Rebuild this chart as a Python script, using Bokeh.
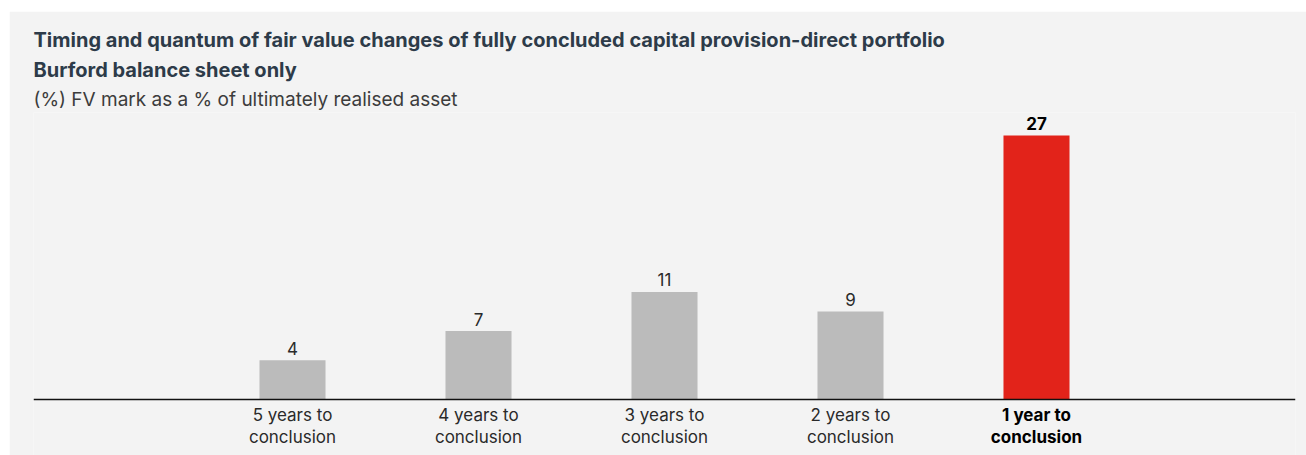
from bokeh.plotting import figure
from bokeh.models import ColumnDataSource, Span, Title, Range1d
from bokeh.core.properties import value
from bokeh.embed import file_html
from bokeh.resources import INLINE

# ---- data ----
categories = ["5 years to\nconclusion", "4 years to\nconclusion", "3 years to\nconclusion",
              "2 years to\nconclusion", "1 year to\nconclusion"]
values = [4, 7, 11, 9, 27]
value_labels = ["4", "7", "11", "9", "27"]
bar_colors = ["#bbbbbb", "#bbbbbb", "#bbbbbb", "#bbbbbb", "#e2231a"]
label_styles = ["normal", "normal", "normal", "normal", "bold"]
label_colors = ["#2a2a2a", "#2a2a2a", "#2a2a2a", "#2a2a2a", "#000000"]

title_1 = "Timing and quantum of fair value changes of fully concluded capital provision-direct portfolio"
title_2 = "Burford balance sheet only"
subtitle = "(%) FV mark as a % of ultimately realised asset"

FONT = "Inter"
BG = "#f3f3f3"

positions = list(range(len(categories)))
src = ColumnDataSource(dict(x=positions, top=values, color=bar_colors, cat=categories,
                            vlab=value_labels, style=label_styles, tcolor=label_colors))

p = figure(width=1297, height=444, output_backend="svg", toolbar_location=None,
           margin=(11, 0, 0, 9),
           x_range=Range1d(-1.3925, len(categories) - 1 + 1.3925),
           y_range=Range1d(-5.73, 29.35),
           min_border_left=24, min_border_right=11, min_border_bottom=0, min_border_top=101)
p.background_fill_color = BG
p.border_fill_color = BG
p.outline_line_color = None
p.xgrid.visible = False
p.ygrid.visible = False
p.xaxis.visible = False
p.yaxis.visible = False

p.vbar(x="x", top="top", bottom=0, width=0.355, color="color", line_color=None, source=src)

p.text(x="x", y="top", text="vlab", source=src, text_align="center", text_baseline="alphabetic",
       y_offset=-12, text_font=value(FONT), text_font_size="17px",
       text_font_style="style", text_color="tcolor")

p.text(x="x", y=0, text="cat", source=src, text_align="center", text_baseline="top",
       y_offset=6, text_font=value(FONT), text_font_size="17px", text_line_height=1.1,
       text_font_style="style", text_color="tcolor")

p.add_layout(Span(location=0, dimension="width", line_color="#111111", line_width=1.5))

t3 = Title(text=subtitle, text_font=FONT, text_font_size="19px", text_font_style="normal",
           text_color="#3c3c3c", align="left", standoff=4)
t2 = Title(text=title_2, text_font=FONT, text_font_size="20px", text_font_style="bold",
           text_color="#2d3b49", align="left", standoff=4)
t1 = Title(text=title_1, text_font=FONT, text_font_size="20px", text_font_style="bold",
           text_color="#2d3b49", align="left", standoff=4)
p.add_layout(t3, "above")
p.add_layout(t2, "above")
p.add_layout(t1, "above")

open("out.html", "w").write(file_html(p, INLINE))
